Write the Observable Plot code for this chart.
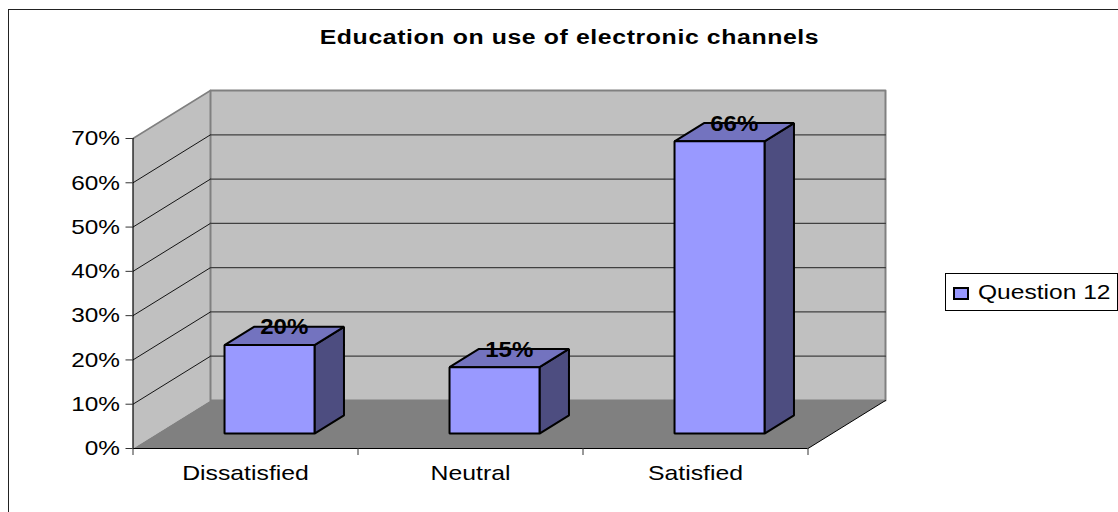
<!DOCTYPE html>
<html>
<head>
<meta charset="utf-8">
<script src="https://cdn.jsdelivr.net/npm/d3@7"></script>
<script src="https://cdn.jsdelivr.net/npm/@observablehq/plot@0.6"></script>
<style>
  html, body { margin: 0; background: #fff; }
  body { width: 1118px; height: 512px; overflow: hidden; position: relative; font-family: "Liberation Sans", Arial, sans-serif; color: #000; }
  #chart { position: absolute; left: 0; top: 0; }
  #frame { position: absolute; left: 7.5px; top: 8.5px; width: 1120px; height: 520px; border: 1.5px solid #222; box-sizing: border-box; }
  #title { position: absolute; left: 319px; width: 501px; top: 26px; text-align: center; font-size: 20px; font-weight: bold; letter-spacing: 0.5px; line-height: 22px; white-space: nowrap; transform: scaleX(1.24); }
  #legend { position: absolute; left: 945px; top: 273px; width: 173px; height: 38px; box-sizing: border-box; border: 1px solid #000; background: #fff; }
  #legend i { position: absolute; left: 7px; top: 13px; width: 16px; height: 13px; box-sizing: border-box; background: #9999ff; border: 2px solid #000; }
  #legend span { position: absolute; left: 32px; top: 7px; font-size: 21px; line-height: 22px; white-space: nowrap; transform: scaleX(1.17); transform-origin: left center; }
</style>
</head>
<body>
<div id="chart"></div>
<div id="frame"></div>
<div id="title">Education on use of electronic channels</div>
<div id="legend"><i></i><span>Question 12</span></div>
<script>
// Survey results
const categories = ["Dissatisfied", "Neutral", "Satisfied"];
const shares = [20, 15, 66];
const percentTicks = [0, 10, 20, 30, 40, 50, 60, 70];

// Oblique projection: a full step into the depth of the box, in scale units
const depthX = 77.5 / 225;
const depthY = 48 / (310 / 70);
const xMax = categories.length;
const yMax = 70;
const project = (cat, pct, d) => ({x: cat + d * depthX, y: pct + d * depthY});

const face = (...corners) => corners.map(([c, p, d]) => project(c, p, d));

// Bar proportions inside a category slot
const barWidth = 0.4;
const barFront = 0.31;
const barBack = 0.69;

const floor = face([0, 0, 0], [xMax, 0, 0], [xMax, 0, 1], [0, 0, 1]);
const sideWall = face([0, 0, 0], [0, yMax, 0], [0, yMax, 1], [0, 0, 1]);
const backWall = face([0, 0, 1], [0, yMax, 1], [xMax, yMax, 1], [xMax, 0, 1]);

const polygon = (pts, options) => Plot.line(pts, {x: "x", y: "y", curve: "linear-closed", ...options});
const segment = (pts, options) => Plot.line(pts, {x: "x", y: "y", ...options});

const gridTicks = percentTicks.filter(t => t > 0 && t < yMax);
const backGrid = gridTicks.map(t => segment(face([0, t, 1], [xMax, t, 1]), {stroke: "#404040", strokeWidth: 1.2}));
const sideGrid = gridTicks.map(t => segment(face([0, t, 0], [0, t, 1]), {stroke: "#000", strokeWidth: 0.9}));

// Each bar is three faces: right side, top, front
const barMarks = shares.flatMap((v, i) => {
  const l = i + 0.5 - barWidth / 2;
  const r = i + 0.5 + barWidth / 2;
  const outline = {stroke: "#000", strokeWidth: 2, strokeLinejoin: "miter"};
  return [
    polygon(face([r, 0, barFront], [r, v, barFront], [r, v, barBack], [r, 0, barBack]), {fill: "#4d4d80", ...outline}),
    polygon(face([l, v, barFront], [r, v, barFront], [r, v, barBack], [l, v, barBack]), {fill: "#7373bf", ...outline}),
    polygon(face([l, 0, barFront], [r, 0, barFront], [r, v, barFront], [l, v, barFront]), {fill: "#9999ff", ...outline})
  ];
});

const valueLabels = shares.map((v, i) => ({...project(i + 0.5, v, 0.5), label: `${v}%`}));

const plot = Plot.plot({
  width: 1118,
  height: 512,
  marginLeft: 132.5,
  marginRight: 1118 - 807.5,
  marginTop: 138,
  marginBottom: 512 - 448,
  x: {domain: [0, xMax], axis: null},
  y: {domain: [0, yMax], axis: null},
  style: {background: "transparent", overflow: "visible", fontFamily: "'Liberation Sans', Arial, sans-serif"},
  marks: [
    polygon(sideWall, {fill: "#c0c0c0"}),
    polygon(backWall, {fill: "#c0c0c0", stroke: "#808080", strokeWidth: 2}),
    polygon(floor, {fill: "#808080"}),
    segment(face([0, yMax, 0], [0, yMax, 1]), {stroke: "#808080", strokeWidth: 1.5}),
    ...sideGrid,
    ...backGrid,
    segment(face([xMax, 0, 0], [xMax, 0, 1]), {stroke: "#000", strokeWidth: 1}),
    Plot.ruleX([0], {y1: 0, y2: yMax, stroke: "#000", strokeWidth: 1.2}),
    Plot.ruleY([0], {x1: 0, x2: xMax, stroke: "#000", strokeWidth: 1.2}),
    Plot.axisY({
      ticks: percentTicks,
      tickFormat: d => `${d}%`,
      tickSize: 7,
      tickPadding: 6,
      fontSize: 21,
      label: null,
      stroke: "#333"
    }),
    Plot.axisX({ticks: [0, 1, 2, 3], tickFormat: () => "", tickSize: 7, label: null, stroke: "#333"}),
    Plot.axisX({
      ticks: categories.map((_, i) => i + 0.5),
      tickFormat: d => categories[d - 0.5],
      tickSize: 0,
      tickPadding: 17,
      fontSize: 21,
      label: null
    }),
    ...barMarks,
    Plot.text(valueLabels, {
      x: "x",
      y: "y",
      text: "label",
      fontSize: 22,
      fontWeight: "bold",
      fill: "#000",
      dy: -8.5
    })
  ]
});
document.getElementById("chart").append(plot);

// The type runs wide: stretch each label horizontally about its anchor
const stretch = (selector, factor) =>
  d3.select(plot).selectAll(selector).each(function () {
    const natural = this.getComputedTextLength();
    if (natural > 0) {
      this.setAttribute("lengthAdjust", "spacingAndGlyphs");
      this.setAttribute("textLength", natural * factor);
    }
  });
stretch("g[aria-label='y-axis tick label'] text", 1.16);
stretch("g[aria-label='x-axis tick label'] text", 1.18);
stretch("g[aria-label='text'] text", 1.09);
</script>
</body>
</html>
